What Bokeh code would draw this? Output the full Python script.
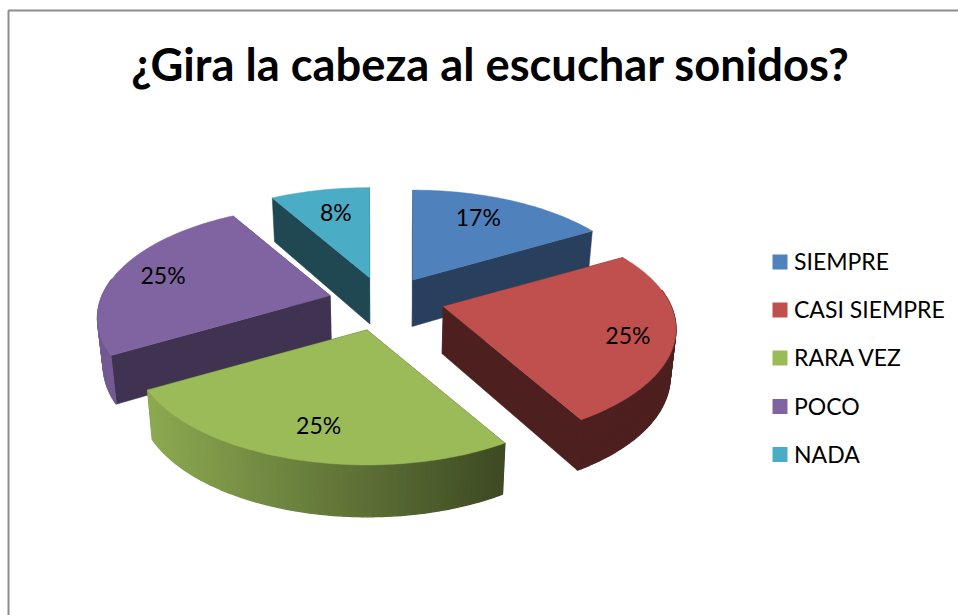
import math
from bokeh.plotting import figure
from bokeh.models import Range1d
from bokeh.core.properties import value
from bokeh.embed import file_html
from bokeh.resources import INLINE

TITLE = "¿Gira la cabeza al escuchar sonidos?"
categories = ["SIEMPRE", "CASI SIEMPRE", "RARA VEZ", "POCO", "NADA"]
counts = [2, 3, 3, 3, 1]
colors = ["#4f81bd", "#c0504d", "#9bbb59", "#8064a2", "#4bacc6"]
wall_shade = [0.5, 0.4, 0.4, 0.5, 0.42]
paint_order = [4, 0, 3, 1, 2]

# projection of the tilted pie
CX, CY, R, RY, K, EXPLODE = 384.0, 302.0, 228.0, 108.0, 0.2, 0.25
LABEL_R = 0.77
SLICE_NUDGE = [(1, 0), (3, -3), (-2, 0), (0, 0), (-1, 0)]
LABEL_NUDGE = [(-12, 0), (8, 6), (5, 1), (-4, 0), (6, 4)]


def local(r, deg):
    a = math.radians(deg)
    x, y = r * math.sin(a), r * math.cos(a)
    s = 1 / (1 + K * y)
    return R * x * s, -RY * y * s


def drop(x, y):
    """Where a point of the top face lands on the bottom face."""
    return CX + (x - CX) * 0.98, y + 47 + 0.03 * (y - CY)


def shade(col, f):
    r, g, b = (int(col[i:i + 2], 16) for i in (1, 3, 5))
    return "#%02x%02x%02x" % (round(r * f), round(g * f), round(b * f))


def arc_shade(x):
    return max(0.4, min(0.9, 0.9 - 0.5 * (x - 150) / 350))


p = figure(width=958, height=615, output_backend="svg", toolbar_location=None,
           x_range=Range1d(0, 958), y_range=Range1d(615, 0),
           min_border=0, outline_line_color=None, background_fill_color="white")
p.xaxis.visible = False
p.yaxis.visible = False
p.grid.visible = False

# chart frame (left and top edges are the only ones in view)
p.line([8, 8, 958], [615, 10, 10], line_color="#8c8c8c", line_width=2)

total = sum(counts)
starts, cum = [], 0.0
for v in counts:
    starts.append(cum / total * 360)
    cum += v

xs, ys, fills, widths = [], [], [], []
labels = [None] * len(counts)
for i in paint_order:
    a0 = starts[i]
    a1 = a0 + counts[i] / total * 360
    mid = (a0 + a1) / 2
    ox, oy = local(EXPLODE, mid)
    ax, ay = CX + ox + SLICE_NUDGE[i][0], CY + oy + SLICE_NUDGE[i][1]
    n = max(8, int((a1 - a0) / 1.0))
    angles = [a0 + (a1 - a0) * j / n for j in range(n + 1)]
    arc = []
    for a in angles:
        dx, dy = local(1.0, a)
        arc.append((ax + dx, ay + dy))
    # the two radial walls
    bax, bay = drop(ax, ay)
    for ex, ey in (arc[0], arc[-1]):
        bex, bey = drop(ex, ey)
        xs.append([ax, ex, bex, bax])
        ys.append([ay, ey, bey, bay])
        fills.append(shade(colors[i], wall_shade[i]))
        widths.append(0.5)
    # outer wall where it faces the viewer, split into strips for the light falloff
    for j in range(n):
        if math.cos(math.radians((angles[j] + angles[j + 1]) / 2)) > 0.15:
            continue
        (x0, y0), (x1, y1) = arc[j], arc[j + 1]
        bx0, by0 = drop(x0, y0)
        bx1, by1 = drop(x1, y1)
        xs.append([x0, x1, bx1, bx0])
        ys.append([y0, y1, by1, by0])
        fills.append(shade(colors[i], arc_shade((x0 + x1) / 2)))
        widths.append(1.3)
    # top face
    xs.append([ax] + [q[0] for q in arc])
    ys.append([ay] + [q[1] for q in arc])
    fills.append(colors[i])
    widths.append(0.5)
    lx, ly = local(LABEL_R, mid)
    labels[i] = (ax + lx + LABEL_NUDGE[i][0], ay + ly + LABEL_NUDGE[i][1],
                 f"{round(100 * counts[i] / total)}%")

p.patches(xs, ys, fill_color=fills, line_color=fills, line_width=widths)

FONT = value("Lato")
p.text([l[0] for l in labels], [l[1] for l in labels], text=[l[2] for l in labels],
       text_font=FONT, text_font_size="23px", text_color="black",
       text_align="center", text_baseline="middle")

p.text([490], [63], text=[TITLE], text_font=FONT, text_font_size="45.3px",
       text_font_style="bold", text_color="black",
       text_align="center", text_baseline="middle")

leg_y = [260.5, 308.5, 356.5, 405, 453]
p.rect([779.5] * 5, [y + 1 for y in leg_y], width=15, height=15, fill_color=colors, line_color=None)
p.text([793.5] * 5, leg_y, text=categories, text_font=FONT, text_font_size="23px",
       text_color="black", text_align="left", text_baseline="middle")

open("out.html", "w").write(file_html(p, INLINE))
